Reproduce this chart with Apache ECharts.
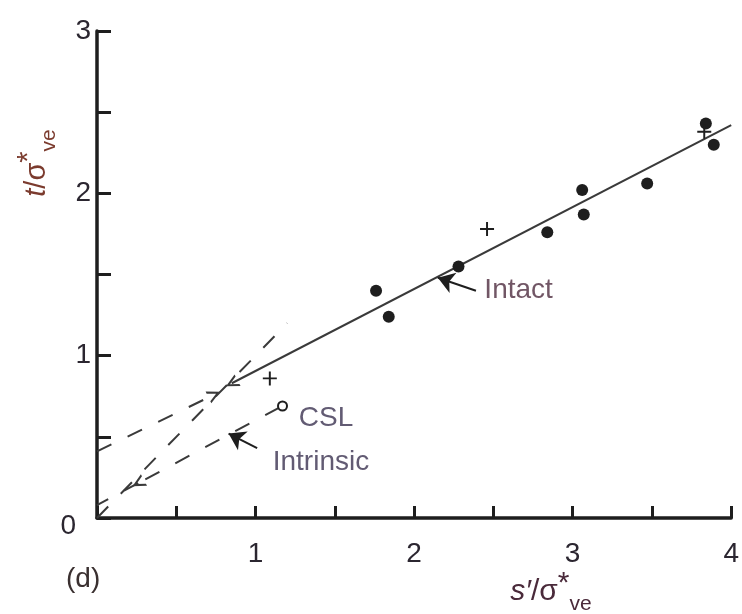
<!DOCTYPE html>
<html><head><meta charset="utf-8">
<script src="https://cdn.jsdelivr.net/npm/echarts@6/dist/echarts.min.js"></script>
<style>html,body{margin:0;padding:0;background:#fff}#c{width:742px;height:614px}</style>
</head><body><div id="c"></div>
<script>
// ---- data ----
const xTickLabels = ['1', '2', '3', '4'];
const yTickLabels = ['0', '1', '2', '3'];

const intactX = [1.76, 1.84, 2.28, 2.84, 3.06, 3.07, 3.47, 3.84, 3.89];
const intactY = [1.40, 1.24, 1.55, 1.76, 2.02, 1.87, 2.06, 2.43, 2.30];

const plusX = [1.09, 2.46, 3.83];
const plusY = [0.86, 1.78, 2.38];

const cslPointX = [1.17];
const cslPointY = [0.69];

const intactFitX = [0.85, 4.0];
const intactFitY = [0.83, 2.42];
const intactExtX = [0.0, 0.74];
const intactExtY = [0.41, 0.76];
const cslLineX = [0.0, 1.2];
const cslLineY = [0.0, 1.2];
const intrinsicAX = [1.15, 0.26];
const intrinsicAY = [0.68, 0.215];
const intrinsicBX = [0.26, 0.0];
const intrinsicBY = [0.215, 0.08];

const arrowIntactX = [2.39, 2.15];
const arrowIntactY = [1.40, 1.48];
const arrowIntrinsicX = [1.01, 0.83];
const arrowIntrinsicY = [0.43, 0.52];

const noteText = ['Intact', 'CSL', 'Intrinsic'];
const noteX = [2.44, 1.27, 1.105];
const noteY = [1.40, 0.616, 0.345];

// ---- helpers ----
const zip = (xs, ys) => xs.map((x, i) => [x, ys[i]]);
const FONT = '"Liberation Sans", Arial, sans-serif';
const INK = '#1e1e1e';
const LINE = '#3a3a3a';
const CHEVRON = 'path://M10,0L20,20L16.5,20L10,7L3.5,20L0,20Z';
const PLUS = 'path://M0,8.6H20V11.4H0Z M8.6,0H11.4V20H8.6Z';

const chart = echarts.init(document.getElementById('c'), null, {renderer: 'canvas'});

function seg(xs, ys, type, symbols, size) {
  return {
    type: 'lines', coordinateSystem: 'cartesian2d', silent: true, z: 3,
    symbol: symbols || ['none', 'none'], symbolSize: size || 13,
    lineStyle: {color: LINE, width: 2, type: type, opacity: 1},
    data: [{coords: zip(xs, ys)}]
  };
}

function titleRich(color, fs) {
  return {
    i: {fontStyle: 'italic', fontSize: fs, fontFamily: FONT, fill: color, lineHeight: 46, verticalAlign: 'middle'},
    n: {fontSize: fs, fontFamily: FONT, fill: color, lineHeight: 46, verticalAlign: 'middle'},
    sup: {fontSize: fs, fontFamily: FONT, fill: color, lineHeight: fs, verticalAlign: 'top'},
    sub: {fontSize: 21, fontFamily: FONT, fill: color, lineHeight: 21, verticalAlign: 'bottom'}
  };
}

const option = {
  animation: false,
  backgroundColor: '#fff',
  grid: {left: 97, right: 6, top: 31, bottom: 96, containLabel: false},
  xAxis: {
    type: 'value', min: 0, max: 4, interval: 0.5,
    axisLine: {show: true, lineStyle: {color: INK, width: 3.5}},
    axisTick: {show: true, inside: true, length: 12, lineStyle: {color: INK, width: 3}},
    splitLine: {show: false},
    axisLabel: {
      margin: 22, fontSize: 28, fontFamily: FONT, color: '#2b2630',
      showMinLabel: true, showMaxLabel: true,
      formatter: v => { const i = xTickLabels.indexOf(String(v)); return i >= 0 ? xTickLabels[i] : ''; }
    }
  },
  yAxis: {
    type: 'value', min: 0, max: 3, interval: 0.5,
    axisLine: {show: true, lineStyle: {color: INK, width: 3.5}},
    axisTick: {show: true, inside: true, length: 14, lineStyle: {color: INK, width: 3}},
    splitLine: {show: false},
    axisLabel: {
      margin: 6, fontSize: 28, fontFamily: FONT, color: '#2b2630',
      showMinLabel: true, showMaxLabel: true,
      rich: {
        z: {fontSize: 28, fontFamily: FONT, color: '#2b2630', padding: [16, 15, 0, 0]}
      },
      formatter: v => {
        const i = yTickLabels.indexOf(String(v));
        if (i < 0) return '';
        return v === 0 ? '{z|' + yTickLabels[i] + '}' : yTickLabels[i];
      }
    }
  },
  graphic: [
    {
      type: 'text', x: 37, y: 163, rotation: Math.PI / 2, silent: true,
      style: {
        text: '{i|t}{n|/σ}{sup|*}{sub|ve}', align: 'center', verticalAlign: 'middle',
        fill: '#7b3b2e', fontSize: 29, fontFamily: FONT, rich: titleRich('#7b3b2e', 29)
      }
    },
    {
      type: 'text', x: 551, y: 592, silent: true,
      style: {
        text: '{i|s′}{n|/σ}{sup|*}{sub|ve}', align: 'center', verticalAlign: 'middle',
        fill: '#4a2a3a', fontSize: 30, fontFamily: FONT, rich: titleRich('#4a2a3a', 30)
      }
    },
    {
      type: 'text', x: 66, y: 579, silent: true,
      style: {text: '(d)', fontSize: 28, fontFamily: FONT, fill: '#3a3030', align: 'left', verticalAlign: 'middle'}
    }
  ],
  series: [
    seg(intactFitX, intactFitY, 'solid', [CHEVRON, 'none'], 13),
    seg(intactExtX, intactExtY, [16, 18], ['none', CHEVRON], 13),
    seg(cslLineX, cslLineY, [16, 18], ['none', 'none']),
    seg(intrinsicAX, intrinsicAY, [16, 18], ['none', CHEVRON], 13),
    seg(intrinsicBX, intrinsicBY, [16, 18], ['none', 'none']),
    {
      type: 'lines', coordinateSystem: 'cartesian2d', silent: true, z: 4,
      symbol: ['none', 'arrow'], symbolSize: 16,
      lineStyle: {color: INK, width: 2, type: 'solid', opacity: 1},
      data: [{coords: zip(arrowIntactX, arrowIntactY)}, {coords: zip(arrowIntrinsicX, arrowIntrinsicY)}]
    },
    {
      type: 'scatter', name: 'Intact', z: 5, silent: true,
      symbol: 'circle', symbolSize: 12,
      itemStyle: {color: INK, opacity: 1},
      data: zip(intactX, intactY)
    },
    {
      type: 'scatter', name: 'Plus', z: 5, silent: true,
      symbol: PLUS, symbolSize: 14,
      itemStyle: {color: INK, opacity: 1},
      data: zip(plusX, plusY)
    },
    {
      type: 'scatter', name: 'CSL', z: 5, silent: true,
      symbol: 'circle', symbolSize: 9,
      itemStyle: {color: '#fff', borderColor: INK, borderWidth: 2, opacity: 1},
      data: zip(cslPointX, cslPointY)
    },
    {
      type: 'scatter', name: 'notes', z: 6, silent: true,
      symbol: 'circle', symbolSize: 1,
      itemStyle: {color: 'rgba(0,0,0,0)'},
      label: {
        show: true, position: 'right', distance: 0,
        fontSize: 28, fontFamily: FONT,
        formatter: p => p.name,
        color: '#3b3250'
      },
      data: noteX.map((x, i) => ({
        value: [x, noteY[i]], name: noteText[i],
        label: i === 0 ? {color: '#4e2c3e'} : {}
      }))
    }
  ]
};
chart.setOption(option);
</script>
</body></html>
